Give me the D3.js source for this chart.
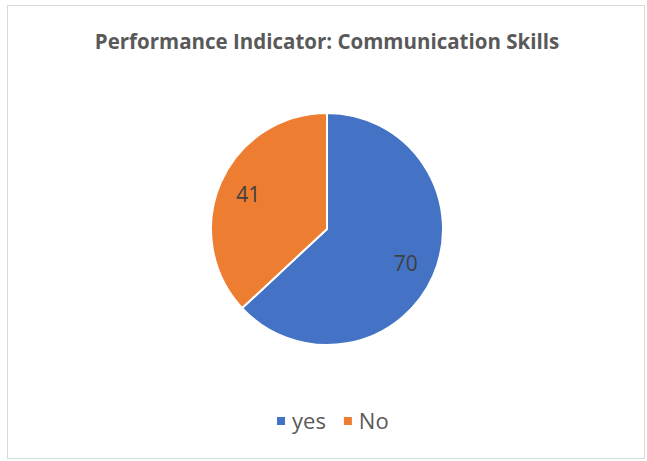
<!DOCTYPE html>
<html>
<head>
<meta charset="utf-8">
<script src="https://cdn.jsdelivr.net/npm/d3@7"></script>
<style>
	body { margin: 0; background: #fff; }
	svg text { font-family: "Open Sans", "Liberation Sans", sans-serif; }
</style>
</head>
<body>
<div id="chart"></div>
<script>
var chartTitle = 'Performance Indicator: Communication Skills';
var labels = ['yes', 'No'];
var values = [70, 41];
var colors = ['#4472C4', '#ED7D31'];

var width = 647,
	height = 461;
var cx = 327,
	cy = 229,
	radius = 116;

var svg = d3.select('#chart').append('svg')
	.attr('width', width)
	.attr('height', height);

// 外框
svg.append('rect')
	.attr('x', 7.5)
	.attr('y', 5.5)
	.attr('width', 637)
	.attr('height', 453)
	.attr('fill', '#fff')
	.attr('stroke', '#d9d9d9')
	.attr('stroke-width', 1);

svg.append('text')
	.attr('x', cx)
	.attr('y', 49)
	.attr('text-anchor', 'middle')
	.style('font-size', '20.5px')
	.style('font-weight', 'bold')
	.style('fill', '#595959')
	.text(chartTitle);

var pieData = labels.map((d, i) => ({ name: d, value: values[i], color: colors[i] }));

var pie = d3.pie()
	.sort(null)
	.value(d => d.value);

var arc = d3.arc()
	.innerRadius(0)
	.outerRadius(radius);

var labelArc = d3.arc()
	.innerRadius(radius * 0.74)
	.outerRadius(radius * 0.74);

var g = svg.append('g')
	.attr('transform', 'translate(' + cx + ',' + cy + ')');

g.selectAll('path')
	.data(pie(pieData))
	.enter()
	.append('path')
	.attr('d', arc)
	.attr('fill', d => d.data.color)
	.attr('stroke', '#fff')
	.attr('stroke-width', 2)
	.attr('stroke-linejoin', 'round');

g.selectAll('.val')
	.data(pie(pieData))
	.enter()
	.append('text')
	.attr('class', 'val')
	.attr('transform', d => 'translate(' + labelArc.centroid(d) + ')')
	.attr('text-anchor', 'middle')
	.attr('dy', '0.35em')
	.style('font-size', '21px')
	.style('fill', '#404040')
	.text(d => d.data.value);

// 图例
var legend = svg.append('g')
	.attr('transform', 'translate(277,421)');
var lx = 0;
pieData.forEach(d => {
	var item = legend.append('g').attr('transform', 'translate(' + lx + ',0)');
	item.append('rect')
		.attr('x', 0)
		.attr('y', -4)
		.attr('width', 8)
		.attr('height', 8)
		.attr('fill', d.color);
	var t = item.append('text')
		.attr('x', 15)
		.attr('dy', '0.35em')
		.style('font-size', '22px')
		.style('fill', '#595959')
		.text(d.name);
	lx += 15 + t.node().getComputedTextLength() + 18;
});
</script>
</body>
</html>
